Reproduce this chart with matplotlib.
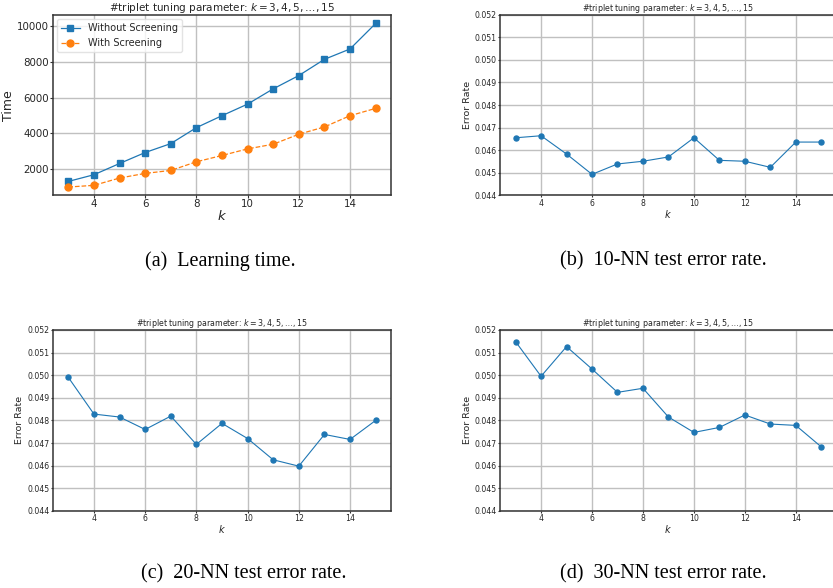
import matplotlib
matplotlib.use("Agg")
import matplotlib.pyplot as plt

k = [3, 4, 5, 6, 7, 8, 9, 10, 11, 12, 13, 14, 15]

time_without = [1310, 1685, 2315, 2930, 3430, 4325, 4995, 5645, 6500, 7245, 8155, 8735, 10165]
time_with = [995, 1090, 1500, 1760, 1925, 2410, 2765, 3135, 3395, 3955, 4365, 4995, 5405]

err_10nn = [0.04655, 0.04664, 0.04583, 0.04493, 0.04539, 0.04551, 0.04570,
            0.04655, 0.04555, 0.04551, 0.04524, 0.04636, 0.04636]
err_20nn = [0.04990, 0.04828, 0.04815, 0.04760, 0.04819, 0.04694, 0.04787,
            0.04720, 0.04626, 0.04598, 0.04738, 0.04716, 0.04800]
err_30nn = [0.05148, 0.04995, 0.05126, 0.05027, 0.04924, 0.04942, 0.04815,
            0.04747, 0.04769, 0.04824, 0.04784, 0.04778, 0.04683]

title = r"#triplet tuning parameter: $k = 3, 4, 5, \ldots, 15$"
captions = ["(a)  Learning time.", "(b)  10-NN test error rate.",
            "(c)  20-NN test error rate.", "(d)  30-NN test error rate."]

txt = "#262626"
grid_c = "#c0c0c0"


def style(ax, fs, tlen):
    ax.grid(True, color=grid_c, linewidth=1.0)
    ax.set_axisbelow(True)
    ax.tick_params(length=tlen, width=0.8, color="#333333", labelsize=fs,
                   labelcolor=txt, pad=1)
    for s in ax.spines.values():
        s.set_color("#333333")
        s.set_linewidth(1.1)


fig = plt.figure(figsize=(8.33, 5.88), dpi=100)

# (a) learning time
ax = fig.add_axes([0.0636, 0.668, 0.4058, 0.306])
ax.plot(k, time_without, "s-", color="#1f77b4", markersize=5, linewidth=0.9, label="Without Screening")
ax.plot(k, time_with, "o--", color="#ff7f0e", markersize=5, linewidth=0.9, label="With Screening")
style(ax, 7.4, 2)
ax.set_yticks([2000, 4000, 6000, 8000, 10000])
ax.set_xticks([4, 6, 8, 10, 12, 14])
ax.set_ylabel("Time", fontsize=9, color=txt)
ax.yaxis.set_label_coords(-0.112, 0.5)
ax.set_xlabel("$k$", fontsize=9.5, color=txt, labelpad=0)
ax.set_title(title, fontsize=7.5, color=txt, pad=1.5)
ax.legend(loc="upper left", fontsize=7, frameon=True, borderaxespad=0.4,
          labelcolor=txt, edgecolor="#dddddd", fancybox=True)

# error-rate panels
panels = [
    ([0.6006, 0.6678, 0.4037, 0.3071], err_10nn),
    ([0.0636, 0.131, 0.4058, 0.308], err_20nn),
    ([0.6006, 0.131, 0.4037, 0.308], err_30nn),
]
for pos, vals in panels:
    ax = fig.add_axes(pos)
    ax.plot(k, vals, "o-", color="#1f77b4", markersize=3.6, linewidth=0.8)
    style(ax, 5.6, 1.5)
    ax.set_ylim(0.044, 0.052)
    ax.set_yticks([0.044, 0.045, 0.046, 0.047, 0.048, 0.049, 0.050, 0.051, 0.052])
    ax.set_yticklabels(["%.3f" % v for v in ax.get_yticks()])
    ax.set_xticks([4, 6, 8, 10, 12, 14])
    ax.set_xlim(2.4, 15.6)
    ax.set_ylabel("Error Rate", fontsize=6.8, color=txt, labelpad=2)
    ax.set_xlabel("$k$", fontsize=7, color=txt, labelpad=0)
    ax.set_title(title, fontsize=5.7, color=txt, pad=1.5)

# captions
cap_pos = [(220 / 833, 1 - 261 / 588), (663 / 833, 1 - 261 / 588),
           (244 / 833, 1 - 574 / 588), (663 / 833, 1 - 574 / 588)]
for (x, y), c in zip(cap_pos, captions):
    fig.text(x, y, c, ha="center", va="center", fontsize=14.5,
             family="Liberation Serif", color="black")

fig.savefig("out.png", dpi=100)
